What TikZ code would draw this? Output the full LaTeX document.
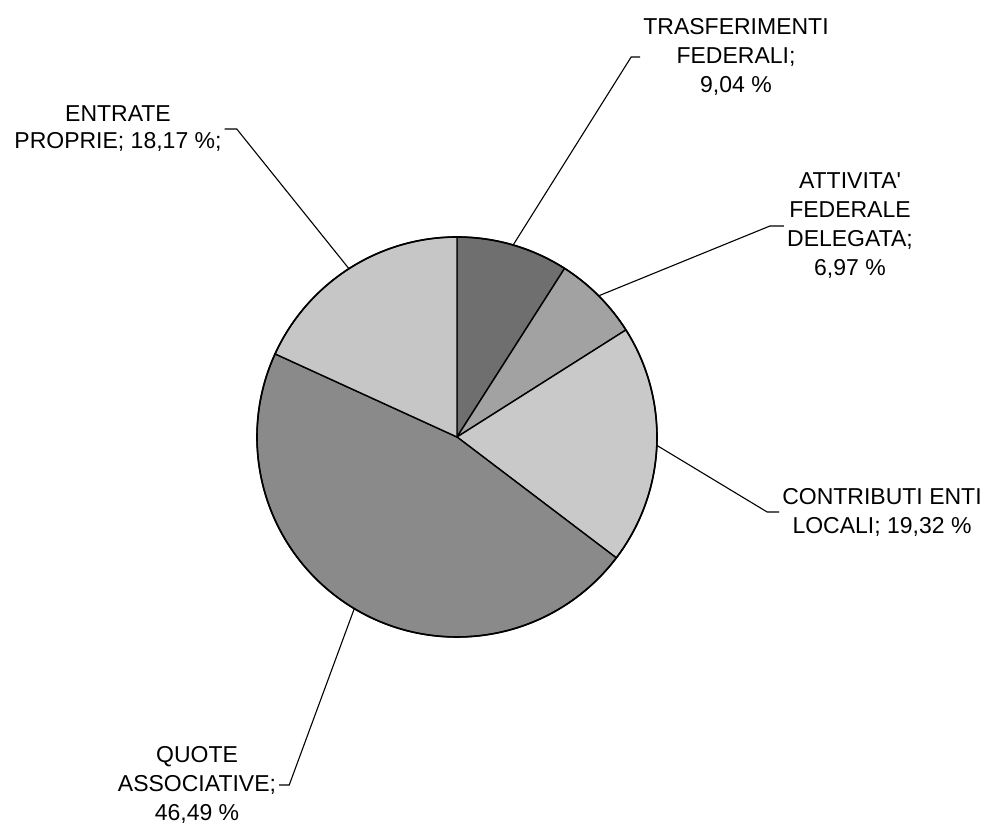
\documentclass[tikz,border=0pt]{standalone}
\usepackage{fontspec}
\setmainfont{Liberation Sans}
\usetikzlibrary{calc}
\definecolor{cTras}{HTML}{6F6F6F}
\definecolor{cAtt}{HTML}{A2A2A2}
\definecolor{cCon}{HTML}{C9C9C9}
\definecolor{cQuo}{HTML}{8A8A8A}
\definecolor{cEnt}{HTML}{C6C6C6}
\tikzset{
  slice/.style={draw=black, line width=1.4pt, line join=round},
  lbl/.style={align=center, inner sep=3pt, font=\fontsize{23}{29}\selectfont},
  leader/.style={draw=black, line width=1.1pt},
}
\begin{document}
\begin{tikzpicture}[x=1pt,y=1pt]
\useasboundingbox[fill=white] (0,0) rectangle (989,827);
\coordinate (c) at (457,390);
% slices (clockwise from top)
\path[slice, fill=cTras] (c) -- ++(90:200) arc[start angle=90, end angle=57.456, radius=200] -- cycle;
\path[slice, fill=cAtt] (c) -- ++(57.456:200) arc[start angle=57.456, end angle=32.364, radius=200] -- cycle;
\path[slice, fill=cCon] (c) -- ++(32.364:200) arc[start angle=32.364, end angle=-37.188, radius=200] -- cycle;
\path[slice, fill=cQuo] (c) -- ++(-37.188:200) arc[start angle=-37.188, end angle=-204.552, radius=200] -- cycle;
\path[slice, fill=cEnt] (c) -- ++(155.448:200) arc[start angle=155.448, end angle=90, radius=200] -- cycle;
\draw[line width=1.6pt] (c) circle[radius=200];
% edge points for leaders
\coordinate (pTras) at ($(c)+(73.7:200)$);
\coordinate (pAtt) at ($(c)+(44.9:200)$);
\coordinate (pCon) at ($(c)+(-2.4:200)$);
\coordinate (pQuo) at ($(c)+(-120.9:200)$);
\coordinate (pEnt) at ($(c)+(122.7:200)$);
% labels
\node[lbl] (lTras) at (736,770) {TRASFERIMENTI\\FEDERALI;\\9,04 \%};
\node[lbl] (lAtt) at (850,601) {ATTIVITA\textquotesingle\\FEDERALE\\DELEGATA;\\6,97 \%};
\node[lbl] (lCon) at (882,315) {CONTRIBUTI ENTI\\LOCALI; 19,32 \%};
\node[lbl] (lQuo) at (197,42) {QUOTE\\ASSOCIATIVE;\\46,49 \%};
\node[lbl, font=\fontsize{23}{27}\selectfont] (lEnt) at (118,698) {ENTRATE\\PROPRIE; 18,17 \%;};
% leaders
\draw[leader] (pTras) -- ([xshift=-9pt]lTras.west) -- (lTras.west);
\draw[leader] (pAtt) -- ([xshift=-14pt]lAtt.west) -- (lAtt.west);
\draw[leader] (pCon) -- ([xshift=-12pt]lCon.west) -- (lCon.west);
\draw[leader] (pQuo) -- ([xshift=10pt]lQuo.east) -- (lQuo.east);
\draw[leader] (pEnt) -- ([xshift=12pt]lEnt.east) -- (lEnt.east);
\end{tikzpicture}
\end{document}
